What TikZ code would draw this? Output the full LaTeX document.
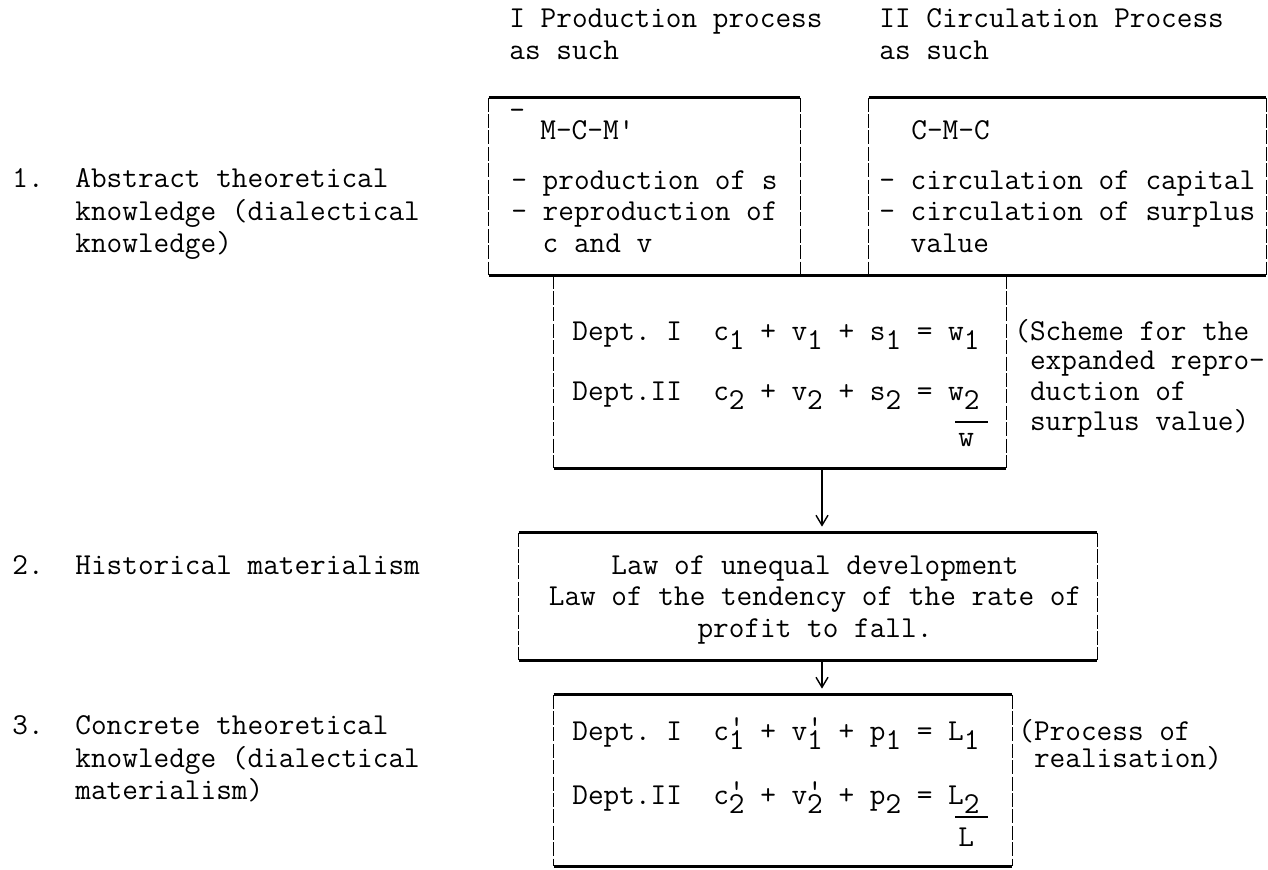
\documentclass[tikz,border=0pt]{standalone}
\usepackage{fontspec}
\usetikzlibrary{arrows.meta,fit}
\newcommand\sbx[1]{\raisebox{-0.32em}{#1}}
\newcommand\spb[1]{\rlap{\raisebox{0.12em}{'}}\raisebox{-0.32em}{#1}}
\begin{document}
\begin{tikzpicture}[x=0.5pt,y=-0.5pt,
  txt/.style={anchor=base west, inner sep=0pt, font=\ttfamily\fontsize{15.2}{17}\selectfont},
  ctxt/.style={txt, anchor=base},
  heavy/.style={line width=1.4pt},
  side/.style={line width=0.55pt, dash pattern=on 7pt off 1.2pt},
  sumbar/.style={line width=1pt},
  arr/.style={line width=0.7pt, shorten >=3pt, -{Straight Barb[length=5pt,width=6pt]}},
  frame/.style={inner sep=0pt, draw=none}]
\fill[white] (0,0) rectangle (1268,869);
\useasboundingbox (0,0) rectangle (1268,869);

% left column
\node[txt] (n1) at (12,187) {1.};
\node[txt] (l1a) at (75,187) {Abstract theoretical};
\node[txt] (l1b) at (75,220) {knowledge (dialectical};
\node[txt] (l1c) at (75,252) {knowledge)};
\node[txt] (n2) at (12,574) {2.};
\node[txt] (l2) at (75,574) {Historical materialism};
\node[txt] (n3) at (12,734) {3.};
\node[txt] (l3a) at (75,734) {Concrete theoretical};
\node[txt] (l3b) at (75,767) {knowledge (dialectical};
\node[txt] (l3c) at (75,799) {materialism)};

% headers
\node[txt] (h1a) at (509,27) {I Production process};
\node[txt] (h1b) at (509,59) {as such};
\node[txt] (h2a) at (879,27) {II Circulation Process};
\node[txt] (h2b) at (879,59) {as such};

% frames
\coordinate (b1nw) at (489,98);  \coordinate (b1se) at (800,275);
\coordinate (b2nw) at (869,98);  \coordinate (b2se) at (1266,275);
\coordinate (d1nw) at (554,275); \coordinate (d1se) at (1006,468);
\coordinate (lwnw) at (519,533); \coordinate (lwse) at (1097,660);
\coordinate (d2nw) at (554,695); \coordinate (d2se) at (1012,866);
\node[frame, fit=(b1nw)(b1se)] (box1) {};
\node[frame, fit=(b2nw)(b2se)] (box2) {};
\node[frame, fit=(d1nw)(d1se)] (dept1) {};
\node[frame, fit=(lwnw)(lwse)] (law) {};
\node[frame, fit=(d2nw)(d2se)] (dept2) {};

% top boxes
\draw[heavy] (box1.north west) -- (box1.north east);
\draw[heavy] (box2.north west) -- (box2.north east);
\draw[heavy] (box1.south west) -- (box2.south east);
\draw[side] (box1.north west) -- (box1.south west);
\draw[side] (box1.north east) -- (box1.south east);
\draw[side] (box2.north west) -- (box2.south west);
\draw[side] (box2.north east) -- (box2.south east);

% dept box 1
\draw[side] (dept1.north west) -- (dept1.south west);
\draw[side] (dept1.north east) -- (dept1.south east);
\draw[heavy] (dept1.south west) -- (dept1.south east);

% law box
\draw[heavy] (law.north west) -- (law.north east);
\draw[heavy] (law.south west) -- (law.south east);
\draw[side] (law.north west) -- (law.south west);
\draw[side] (law.north east) -- (law.south east);

% dept box 2
\draw[heavy] (dept2.north west) -- (dept2.north east);
\draw[heavy] (dept2.south west) -- (dept2.south east);
\draw[side] (dept2.north west) -- (dept2.south west);
\draw[side] (dept2.north east) -- (dept2.south east);

% box 1 text
\node[txt] (mk) at (509,119) {-};
\node[txt] (mcm) at (540,139) {M-C-M'};
\node[txt] (p1) at (511,189) {- production of s};
\node[txt] (p2) at (511,220) {- reproduction of};
\node[txt] (p3) at (511,252) {\hphantom{-}\ c and v};

% box 2 text
\node[txt] (cmc) at (911,139) {C-M-C};
\node[txt] (q1) at (879,189) {- circulation of capital};
\node[txt] (q2) at (879,220) {- circulation of surplus};
\node[txt] (q3) at (879,252) {\hphantom{-}\ value};

% dept box 1 text
\node[txt] (d1a) at (572,340) {Dept.~I~~c\sbx{1} + v\sbx{1} + s\sbx{1} = w\sbx{1}};
\node[txt] (d1b) at (572,400) {Dept.II~~c\sbx{2} + v\sbx{2} + s\sbx{2} = w\sbx{2}};
\node[txt] (wsum) at (958,446) {w};
\draw[sumbar] ([xshift=-1.5pt,yshift=5.5pt]wsum.north west) -- ([xshift=7pt,yshift=5.5pt]wsum.north east);

\node[txt] (s1) at (1014,340) {(Scheme for the};
\node[txt] (s2) at (1014,369) {\hphantom{(}expanded repro-};
\node[txt] (s3) at (1014,400) {\hphantom{(}duction of};
\node[txt] (s4) at (1014,430) {\hphantom{(}surplus value)};

% law text
\node[ctxt] (law1) at (815,574) {Law of unequal development};
\node[ctxt] (law2) at (815,605) {Law of the tendency of the rate of};
\node[ctxt] (law3) at (815,637) {profit to fall.};

% dept box 2 text
\node[txt] (d2a) at (572,740) {Dept.~I~~c\spb{1} + v\spb{1} + p\sbx{1} = L\sbx{1}};
\node[txt] (d2b) at (572,804) {Dept.II~~c\spb{2} + v\spb{2} + p\sbx{2} = L\sbx{2}};
\node[txt] (lsum) at (958,846) {L};
\draw[sumbar] ([xshift=-1.5pt,yshift=5pt]lsum.north west) -- ([xshift=7pt,yshift=5pt]lsum.north east);

\node[txt] (r1) at (1018,740) {(Process of};
\node[txt] (r2) at (1018,767) {\hphantom{(}realisation)};

% arrows
\coordinate (ax) at (822,0);
\draw[arr] (dept1.south -| ax) -- (law.north -| ax);
\draw[arr] (law.south -| ax) -- (dept2.north -| ax);
\end{tikzpicture}
\end{document}
